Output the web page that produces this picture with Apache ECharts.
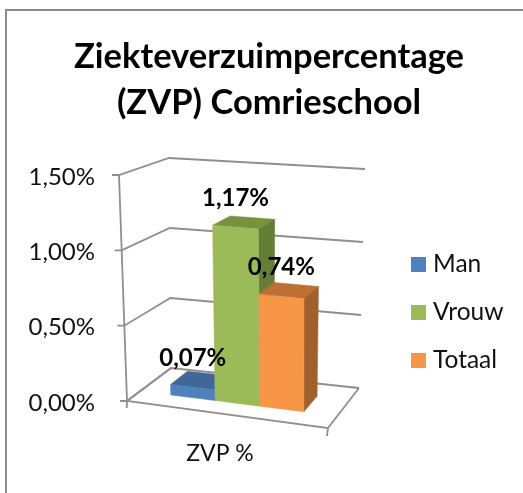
<!DOCTYPE html>
<html>
<head>
<meta charset="utf-8">
<style>
  html, body { margin: 0; padding: 0; background: #fff; }
  #chart { width: 523px; height: 493px; }
</style>
<script src="https://cdn.jsdelivr.net/npm/echarts@6/dist/echarts.min.js"></script>
</head>
<body>
<div id="chart"></div>
<script>
const categories = ["ZVP %"];
const man = [0.07];
const vrouw = [1.17];
const totaal = [0.74];
const yTicks = [0, 0.5, 1, 1.5];

const FONT = "Lato";
const GRID_COLOR = "#8f8f8f";

// floor and wall corners of the 3D box, relative to the axis origin
const FLOOR = { fl: [0, -2], fr: [201, 25], bl: [44, -35], br: [232, -15] };
const RISE = { fl: [-8, 226], fr: [0, 236], bl: [-2, 210], br: [6, 219] };

const BAR_U = 0.155, BAR_W = 0.225, BAR_D0 = 0.3, BAR_D1 = 0.7;

function mix(q, u, d) {
  return [0, 1].map(i =>
    (1 - d) * (q.fl[i] + u * (q.fr[i] - q.fl[i])) +
    d * (q.bl[i] + u * (q.br[i] - q.bl[i])));
}

// axis value + position on the floor -> pixel
function project(params, api, u, d, v) {
  const cs = params.coordSys;
  const y0 = api.coord([0, 0])[1];
  const frac = (y0 - api.coord([0, v])[1]) / cs.height;
  const f = mix(FLOOR, u, d);
  const r = mix(RISE, u, d);
  return [cs.x + f[0] + r[0] * frac, y0 + f[1] - r[1] * frac];
}

function poly(points, color) {
  return { type: "polygon", shape: { points }, style: { fill: color, stroke: color, lineWidth: 0.5 } };
}

function line(points) {
  return {
    type: "polyline",
    shape: { points },
    style: { fill: null, stroke: GRID_COLOR, lineWidth: 1.8 },
  };
}

function renderWalls(params, api) {
  const p = (u, d, v) => project(params, api, u, d, v);
  const children = [];
  yTicks.forEach(v => {
    const front = p(0, 0, v);
    children.push(line([p(1, 1, v), p(0, 1, v), front, [front[0] - 7, front[1]]]));
  });
  const top = yTicks[yTicks.length - 1];
  const fl = p(0, 0, 0), fr = p(1, 0, 0);
  children.push(line([p(0, 0, top), fl, [fl[0] - 0.3, fl[1] + 7]]));
  children.push(line([p(0, 1, 0), fl, fr, [fr[0] - 1, fr[1] + 8]]));
  children.push(line([fr, p(1, 1, 0)]));
  return { type: "group", children };
}

function barRenderer(index, colors) {
  return (params, api) => {
    const v = api.value(1);
    const u0 = BAR_U + index * BAR_W, u1 = u0 + BAR_W;
    const p = (u, d, h) => project(params, api, u, d, h);
    const ftl = p(u0, BAR_D0, v), ftr = p(u1, BAR_D0, v);
    const fbl = p(u0, BAR_D0, 0), fbr = p(u1, BAR_D0, 0);
    const btl = p(u0, BAR_D1, v), btr = p(u1, BAR_D1, v);
    const bbr = p(u1, BAR_D1, 0);
    return {
      type: "group",
      children: [
        poly([btl, btr, ftr, ftl], colors.top),
        poly([ftr, btr, bbr, fbr], colors.side),
        poly([ftl, ftr, fbr, fbl], colors.front),
        {
          type: "text",
          z2: 100,
          style: {
            x: (ftl[0] + ftr[0]) / 2,
            y: (ftl[1] + ftr[1]) / 2 - 29,
            text: v.toFixed(2).replace(".", ",") + "%",
            fill: "#000",
            font: "bold 24px " + FONT,
            align: "center",
            verticalAlign: "middle",
          },
        },
      ],
    };
  };
}

function barSeries(name, values, index, colors) {
  return {
    name,
    type: "custom",
    renderItem: barRenderer(index, colors),
    encode: { x: 0, y: 1 },
    itemStyle: { color: colors.front },
    data: values.map((v, i) => [i, v]),
  };
}

const chart = echarts.init(document.getElementById("chart"));

chart.setOption({
  backgroundColor: "#fff",
  animation: false,
  title: {
    text: "Ziekteverzuimpercentage\n(ZVP) Comrieschool",
    left: 264,
    top: 29,
    textAlign: "center",
    textStyle: { fontFamily: FONT, fontWeight: "bold", fontSize: 34.5, lineHeight: 46, color: "#000" },
  },
  grid: { left: 127, top: 177, width: 186, height: 226 },
  xAxis: {
    type: "category",
    data: categories,
    axisLine: { show: false },
    axisTick: { show: false },
    axisLabel: { margin: 39, fontFamily: FONT, fontSize: 23, color: "#111" },
  },
  yAxis: {
    type: "value",
    min: 0,
    max: 1.5,
    interval: 0.5,
    axisLine: { show: false },
    axisTick: { show: false },
    splitLine: { show: false },
    axisLabel: {
      margin: 32,
      fontFamily: FONT,
      fontSize: 24,
      color: "#111",
      formatter: v => v.toFixed(2).replace(".", ",") + "%",
    },
  },
  legend: {
    orient: "vertical",
    left: 411,
    top: 252,
    padding: 0,
    itemWidth: 15,
    itemHeight: 15,
    itemGap: 23,
    icon: "rect",
    data: ["Man", "Vrouw", "Totaal"],
    textStyle: { fontFamily: FONT, fontSize: 24.5, color: "#111", padding: [0, 0, 0, 2] },
  },
  graphic: [{
    type: "polyline",
    silent: true,
    shape: { points: [[6, 493], [6, 10], [523, 10]] },
    style: { fill: null, stroke: "#8c8c8c", lineWidth: 2 },
  }],
  series: [
    {
      name: "wanden",
      type: "custom",
      silent: true,
      renderItem: renderWalls,
      encode: { x: 0, y: 1 },
      data: [[0, 0]],
    },
    barSeries("Man", man, 0, { front: "#4f81bd", top: "#3f6797", side: "#36587f" }),
    barSeries("Vrouw", vrouw, 1, { front: "#9bbb59", top: "#76923c", side: "#647e37" }),
    barSeries("Totaal", totaal, 2, { front: "#f79646", top: "#bd7034", side: "#a0602c" }),
  ],
});

window.addEventListener("resize", () => chart.resize());
</script>
</body>
</html>
